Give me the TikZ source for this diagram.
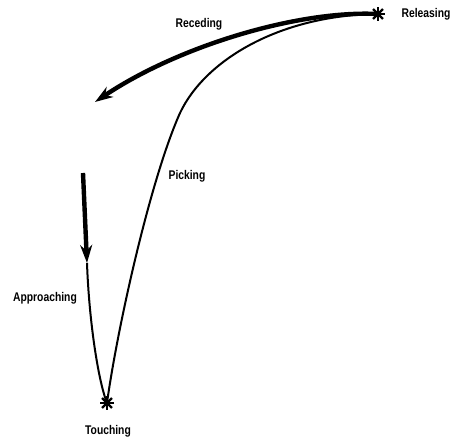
\documentclass[tikz,border=0pt]{standalone}
\usepackage{fontspec}
\newfontfamily\lblfont{Liberation Sans}[FakeStretch=0.82]
\usetikzlibrary{arrows.meta}
\tikzset{
    lbl/.style={font=\lblfont\bfseries\fontsize{6.3}{7}\selectfont, inner sep=0pt},
    motion/.style={line width=2.2pt, -{Stealth[length=9pt,width=6pt]}},
    path/.style={line width=1pt}
}
\begin{document}
\begin{tikzpicture}[x=0.5pt,y=-0.5pt]
        \useasboundingbox (0,0) rectangle (452,442);

        \coordinate (rel) at (378,14);
        \coordinate (touch) at (107,403);
        \coordinate (rectip) at (95,102);
        \coordinate (appstart) at (83,173);
        \coordinate (apptip) at (87,263);
        \coordinate (pickmid) at (180,113);

        \node[lbl] (rellbl) at (426,14) {Releasing};
        \node[lbl] (reclbl) at (199,24) {Receding};
        \node[lbl] (picklbl) at (187,176) {Picking};
        \node[lbl] (applbl) at (45,298) {Approaching};
        \node[lbl] (touchlbl) at (108,431) {Touching};

        % contact points
        \foreach \a in {0,45,...,315} {
            \draw[line width=1.2pt] (rel) -- ++(\a:7);
            \draw[line width=1.2pt] (touch) -- ++(\a:7);
        }

        \draw[path] (touch) .. controls (117,330) and (150,180) .. (pickmid)
            .. controls (205,60) and (280,15) .. (rel);
        \draw[motion] (rel) .. controls (300,10) and (180,45) .. (rectip);
        \draw[motion] (appstart) -- (apptip);
        \draw[path] (apptip) .. controls (89,320) and (98,380) .. (touch);
    \end{tikzpicture}
\end{document}
